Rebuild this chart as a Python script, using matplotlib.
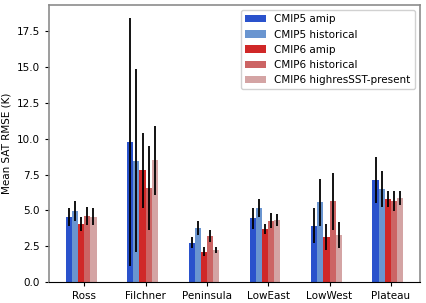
import numpy as np
import matplotlib
matplotlib.use('Agg')
import matplotlib.pyplot as plt

# regions and experiments
regions = ['Ross', 'Filchner', 'Peninsula', 'LowEast', 'LowWest', 'Plateau']
experiments = ['CMIP5 amip', 'CMIP5 historical', 'CMIP6 amip',
               'CMIP6 historical', 'CMIP6 highresSST-present']
colors = ['#2a52cc', '#6a95d0', '#d02828', '#cc6464', '#d4a4a4']

# mean RMSE per experiment (rows) and region (columns)
cmip5_amip = [4.53, 9.78, 2.75, 4.46, 3.92, 7.14]
cmip5_hist = [4.97, 8.45, 3.76, 5.16, 5.55, 6.51]
cmip6_amip = [4.04, 7.79, 2.12, 3.71, 3.17, 5.81]
cmip6_hist = [4.62, 6.56, 3.22, 4.29, 5.62, 5.62]
cmip6_hres = [4.55, 8.49, 2.24, 4.34, 3.27, 5.86]

# spread (half length of the error bar)
cmip5_amip_err = [0.65, 8.63, 0.40, 0.73, 1.22, 1.61]
cmip5_hist_err = [0.69, 6.38, 0.49, 0.64, 1.61, 1.27]
cmip6_amip_err = [0.50, 2.62, 0.30, 0.36, 0.91, 0.55]
cmip6_hist_err = [0.64, 2.96, 0.41, 0.52, 1.96, 0.70]
cmip6_hres_err = [0.60, 2.41, 0.23, 0.43, 0.89, 0.47]

means = [cmip5_amip, cmip5_hist, cmip6_amip, cmip6_hist, cmip6_hres]
errs = [cmip5_amip_err, cmip5_hist_err, cmip6_amip_err, cmip6_hist_err, cmip6_hres_err]

fig = plt.figure(figsize=(4.27, 3.03), dpi=100)
ax = fig.add_axes([49/427, 21/303, 371/427, 277/303])

x = np.arange(len(regions))
w = 0.1
for k in range(len(experiments)):
    ax.bar(x - 0.25 + k * w, means[k], w, color=colors[k], label=experiments[k],
           yerr=errs[k], error_kw=dict(ecolor='black', elinewidth=1.3, capsize=0))

ax.set_xticks(x)
ax.set_xticklabels(regions, fontsize=7.5)
ax.tick_params(axis='y', labelsize=7.5)
ax.tick_params(axis='both', length=3, width=0.8)
ax.set_ylabel('Mean SAT RMSE (K)', fontsize=7.5)
ax.set_yticks(np.arange(0, 18, 2.5))

for side in ['top', 'left', 'right']:
    ax.spines[side].set_color('0.55')
    ax.spines[side].set_linewidth(1.2)
ax.spines['bottom'].set_color('black')

ax.legend(loc='upper right', fontsize=7.5, framealpha=0.9)

plt.savefig('out.png', dpi=100)
